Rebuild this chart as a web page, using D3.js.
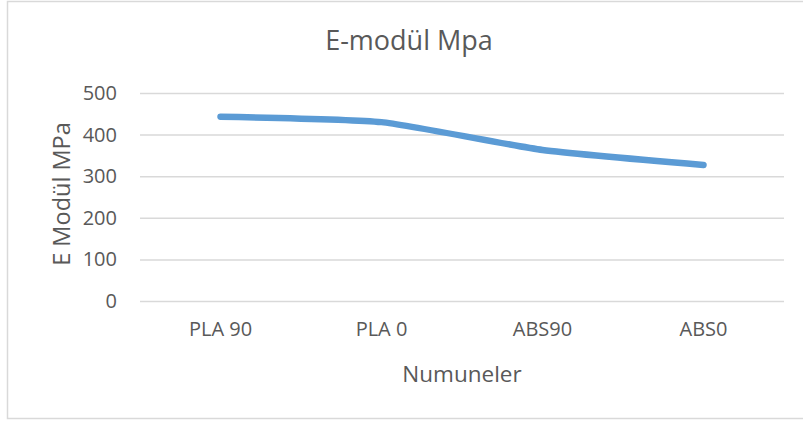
<!DOCTYPE html>
<html>
<head>
<meta charset="utf-8">
<script src="https://cdn.jsdelivr.net/npm/d3@7"></script>
<style>
  body { margin: 0; background: #fff; }
  text { font-family: "Open Sans", sans-serif; fill: #595959; }
</style>
</head>
<body>
<div id="chart"></div>
<script>
const categories = ["PLA 90", "PLA 0", "ABS90", "ABS0"];
const values = [443, 430, 363, 327];
const yTicks = [0, 100, 200, 300, 400, 500];

const W = 803, H = 421;
const margin = {top: 93, right: 19, bottom: 120, left: 140},
    width = W - margin.left - margin.right,
    height = 301 - margin.top;

const root = d3.select("#chart")
  .append("svg")
    .attr("width", W)
    .attr("height", H);

// chart border
root.append("rect")
    .attr("x", 7.5).attr("y", 1.5)
    .attr("width", 800).attr("height", 417)
    .attr("fill", "none")
    .attr("stroke", "#d9d9d9")
    .attr("stroke-width", 1.5);

const svg = root.append("g")
    .attr("transform", `translate(${margin.left},${margin.top})`);

const x = d3.scaleBand()
  .domain(categories)
  .range([0, width]);

const y = d3.scaleLinear()
  .domain([0, 500])
  .range([height, 0]);

// gridlines
svg.append("g")
    .call(d3.axisLeft(y).tickValues(yTicks).tickSize(-width).tickFormat(""))
    .call(g => g.select(".domain").remove())
    .call(g => g.selectAll("line").attr("stroke", "#d9d9d9").attr("stroke-width", 1.5));

// y tick labels
svg.append("g")
    .call(d3.axisLeft(y).tickValues(yTicks).tickSize(0).tickPadding(23))
    .call(g => g.select(".domain").remove())
    .call(g => g.selectAll("text").style("font-size", "20px").attr("fill", "#595959"));

// x tick labels
svg.append("g")
    .attr("transform", `translate(0,${height})`)
    .call(d3.axisBottom(x).tickSize(0).tickPadding(21))
    .call(g => g.select(".domain").remove())
    .call(g => g.selectAll("text").style("font-size", "20px").attr("fill", "#595959"));

// line
const line = d3.line()
  .x((d, i) => x(categories[i]) + x.bandwidth() / 2)
  .y(d => y(d))
  .curve(d3.curveCardinal.tension(0.5));

svg.append("path")
    .datum(values)
    .attr("fill", "none")
    .attr("stroke", "#5b9bd5")
    .attr("stroke-width", 6.5)
    .attr("stroke-linecap", "round")
    .attr("stroke-linejoin", "round")
    .attr("d", line);

// titles
root.append("text")
    .attr("x", 409).attr("y", 50)
    .attr("text-anchor", "middle")
    .style("font-size", "27px")
    .text("E-modül Mpa");

root.append("text")
    .attr("x", 462).attr("y", 382)
    .attr("text-anchor", "middle")
    .style("font-size", "22.5px")
    .text("Numuneler");

root.append("text")
    .attr("transform", "translate(70,194) rotate(-90)")
    .attr("text-anchor", "middle")
    .style("font-size", "23.5px")
    .text("E Modül MPa");
</script>
</body>
</html>
